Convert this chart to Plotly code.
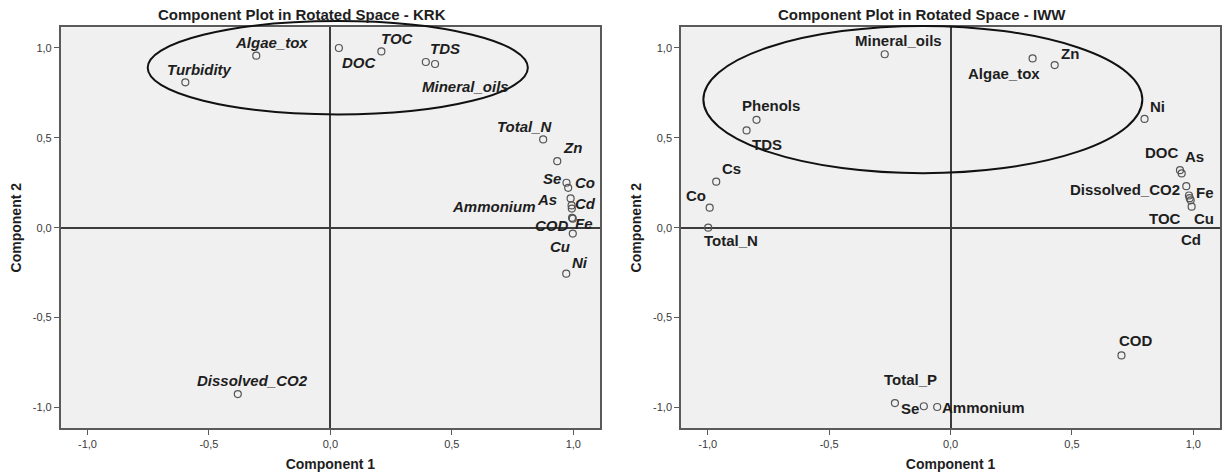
import plotly.graph_objects as go

# ---------------- data ----------------
krk_vars = ["Turbidity", "Algae_tox", "DOC", "TOC", "TDS", "Mineral_oils",
            "Total_N", "Zn", "Se", "Co", "As", "Ammonium", "Cd", "Fe",
            "COD", "Cu", "Ni", "Dissolved_CO2"]
krk_c1 = [-0.597, -0.305, 0.035, 0.210, 0.393, 0.431,
          0.876, 0.934, 0.972, 0.979, 0.989, 0.993, 0.994, 0.998,
          0.995, 0.998, 0.971, -0.381]
krk_c2 = [0.809, 0.957, 1.000, 0.981, 0.922, 0.911,
          0.491, 0.370, 0.250, 0.222, 0.163, 0.124, 0.106, 0.050,
          0.055, -0.033, -0.256, -0.926]

iww_vars = ["Mineral_oils", "Algae_tox", "Zn", "Ni", "Phenols", "TDS",
            "Cs", "Co", "Total_N", "DOC", "As", "Dissolved_CO2", "Fe",
            "Cd", "TOC", "Cu", "COD", "Total_P", "Se", "Ammonium"]
iww_c1 = [-0.271, 0.338, 0.429, 0.799, -0.799, -0.840,
          -0.965, -0.992, -0.998, 0.945, 0.952, 0.971, 0.982,
          0.985, 0.989, 0.993, 0.704, -0.229, -0.110, -0.055]
iww_c2 = [0.965, 0.942, 0.905, 0.605, 0.600, 0.541,
          0.256, 0.111, 0.000, 0.320, 0.302, 0.231, 0.179,
          0.164, 0.152, 0.117, -0.711, -0.976, -0.994, -0.998]

tick_vals = [-1.0, -0.5, 0.0, 0.5, 1.0]
tick_text = ["-1,0", "-0,5", "0,0", "0,5", "1,0"]
panel_titles = ["Component Plot in Rotated Space - KRK",
                "Component Plot in Rotated Space - IWW"]
x_title = "Component 1"
y_title = "Component 2"

# ---------------- label placement (pixel offsets, x right / y down) ----------------
krk_offsets = {
    "Turbidity": (14, -13), "Algae_tox": (15, -13), "DOC": (21, 15),
    "TOC": (16, -13), "TDS": (19, -14), "Mineral_oils": (30, 23),
    "Total_N": (-18, -13), "Zn": (15, -14), "Se": (-14, -4), "Co": (17, -5),
    "As": (-24, 1), "Ammonium": (-78, 1), "Cd": (14, -5), "Fe": (11, 5),
    "COD": (-20, 8), "Cu": (-13, 13), "Ni": (14, -11), "Dissolved_CO2": (15, -14),
}
iww_offsets = {
    "Mineral_oils": (14, -14), "Algae_tox": (-29, 15), "Zn": (15, -12),
    "Ni": (13, -12), "Phenols": (14, -14), "TDS": (20, 14), "Cs": (15, -13),
    "Co": (-14, -12), "Total_N": (23, 13), "DOC": (-18, -18), "As": (13, -17),
    "Dissolved_CO2": (-61, 3), "Fe": (16, -3), "Cd": (1, 41), "TOC": (-26, 18),
    "Cu": (12, 12), "COD": (15, -15), "Total_P": (16, -24), "Se": (-14, 2),
    "Ammonium": (46, 1),
}

X_RANGE = [-1.11, 1.11]
Y_RANGE = [-1.115, 1.115]
DOM_X = [[0.0497, 0.491], [0.5573, 0.9984]]
DOM_Y = [0.1008, 0.9426]

FONT = "Liberation Sans, Arial, sans-serif"
FRAME = "#5a5a5a"

fig = go.Figure()

panels = [
    (krk_vars, krk_c1, krk_c2, krk_offsets, "x", "y", "italic"),
    (iww_vars, iww_c1, iww_c2, iww_offsets, "x2", "y2", "normal"),
]

annotations = []
for names, c1, c2, offs, xa, ya, style in panels:
    fig.add_trace(go.Scatter(
        x=c1, y=c2, mode="markers", xaxis=xa, yaxis=ya,
        marker=dict(symbol="circle-open", size=7, color="#555555",
                    line=dict(width=1.2, color="#555555")),
        cliponaxis=False, showlegend=False, hoverinfo="text", text=names))
    for n, xv, yv in zip(names, c1, c2):
        dx, dy = offs[n]
        annotations.append(dict(
            x=xv, y=yv, xref=xa, yref=ya, text=n, showarrow=False,
            xanchor="center", yanchor="middle", xshift=dx, yshift=-dy,
            font=dict(family=FONT, size=15, color="#1e1e1e",
                      weight="bold", style=style)))

# panel titles (centred over each half of the picture)
for i, t in enumerate(panel_titles):
    annotations.append(dict(
        x=[0.247, 0.7545][i], y=1 - 14 / 476, xref="paper", yref="paper",
        text=t, showarrow=False, xanchor="center", yanchor="middle",
        font=dict(family=FONT, size=15, color="#1e1e1e", weight="bold")))


# ellipses (data units converted to paper units)
def to_paper(v, rng, dom):
    return dom[0] + (v - rng[0]) / (rng[1] - rng[0]) * (dom[1] - dom[0])


ellipses = [
    (0, 0.0305, 0.89, 0.7825, 0.26),
    (1, -0.114, 0.713, 0.904, 0.41),
]
shapes = []
for idx, cx, cy, a, b in ellipses:
    shapes.append(dict(
        type="circle", xref="paper", yref="paper",
        x0=to_paper(cx - a, X_RANGE, DOM_X[idx]), x1=to_paper(cx + a, X_RANGE, DOM_X[idx]),
        y0=to_paper(cy - b, Y_RANGE, DOM_Y), y1=to_paper(cy + b, Y_RANGE, DOM_Y),
        line=dict(color="#111111", width=2), layer="above"))

axis_common = dict(
    showgrid=False, zeroline=True, zerolinecolor="#3c3c3c", zerolinewidth=1.6,
    showline=True, mirror=True, linecolor=FRAME, linewidth=1.6,
    ticks="outside", ticklen=5, tickwidth=1.2, tickcolor=FRAME,
    tickvals=tick_vals, ticktext=tick_text,
    tickfont=dict(family=FONT, size=11, color="#3a3a3a"),
    fixedrange=True,
)

fig.update_layout(
    width=1222, height=476,
    margin=dict(l=0, r=0, t=0, b=0),
    paper_bgcolor="white", plot_bgcolor="#f0f0f0",
    template="none",
    showlegend=False,
    xaxis=dict(domain=DOM_X[0], range=X_RANGE, anchor="y",
               title=dict(text=x_title, standoff=10,
                          font=dict(family=FONT, size=14, color="#1e1e1e", weight="bold")),
               **axis_common),
    yaxis=dict(domain=DOM_Y, range=Y_RANGE, anchor="x",
               title=dict(text=y_title, standoff=8,
                          font=dict(family=FONT, size=14, color="#1e1e1e", weight="bold")),
               **axis_common),
    xaxis2=dict(domain=DOM_X[1], range=X_RANGE, anchor="y2",
                title=dict(text=x_title, standoff=10,
                           font=dict(family=FONT, size=14, color="#1e1e1e", weight="bold")),
                **axis_common),
    yaxis2=dict(domain=DOM_Y, range=Y_RANGE, anchor="x2",
                title=dict(text=y_title, standoff=8,
                           font=dict(family=FONT, size=14, color="#1e1e1e", weight="bold")),
                **axis_common),
    annotations=annotations,
    shapes=shapes,
)

fig.write_html(
    "out.html",
    config={"displayModeBar": False},
    post_script="document.body.style.margin='0px';document.body.style.overflow='hidden';",
)
